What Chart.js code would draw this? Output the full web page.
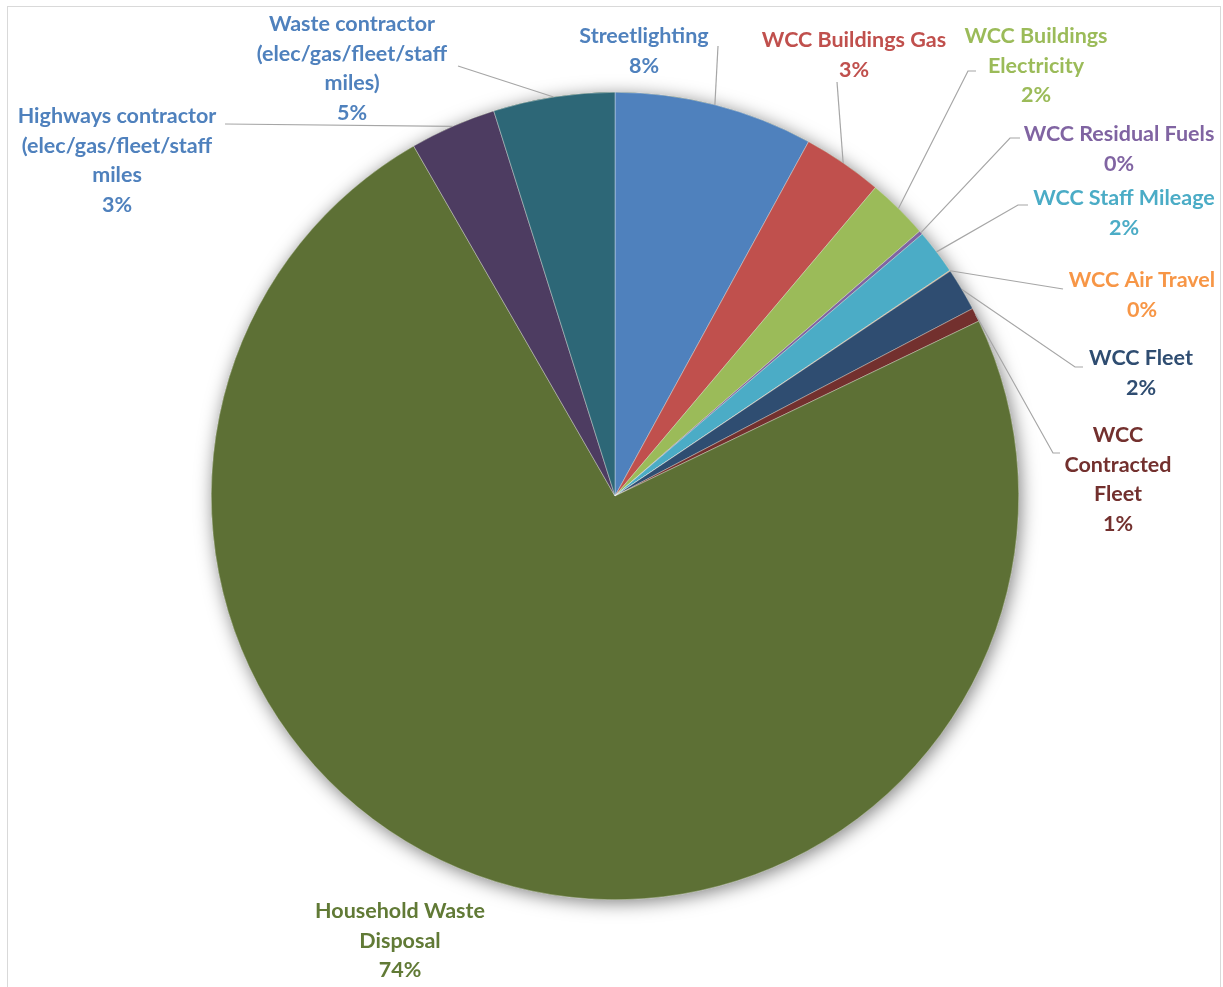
<!DOCTYPE html>
<html>
<head>
<meta charset="utf-8">
<script src="https://cdn.jsdelivr.net/npm/chart.js@4"></script>
<style>
  html, body { margin: 0; padding: 0; background: #fff; }
  #wrap { position: relative; width: 1223px; height: 987px; overflow: hidden; }
  #frame { position: absolute; left: 7px; top: 6px; width: 1214px; height: 1000px;
           border: 1px solid #d9d9d9; box-sizing: border-box; pointer-events: none; }
</style>
</head>
<body>
<div id="wrap">
  <canvas id="emissionsPie" width="1223" height="987"></canvas>
  <div id="frame"></div>
</div>
<script>
// categories (each an array of label lines) in drawing order, clockwise from 12 o'clock
const categories = [
  ['Streetlighting'],
  ['WCC Buildings Gas'],
  ['WCC Buildings', 'Electricity'],
  ['WCC Residual Fuels'],
  ['WCC Staff Mileage'],
  ['WCC Air Travel'],
  ['WCC Fleet'],
  ['WCC', 'Contracted', 'Fleet'],
  ['Household Waste', 'Disposal'],
  ['Highways contractor', '(elec/gas/fleet/staff', 'miles'],
  ['Waste contractor', '(elec/gas/fleet/staff', 'miles)']
];

// share of emissions (%)
const shares = [7.95, 3.2, 2.45, 0.15, 1.8, 0.03, 1.72, 0.55, 73.75, 3.45, 4.85];

const sliceColors = [
  '#4F81BD', '#C0504D', '#9BBB59', '#8064A2', '#4BACC6', '#F79646',
  '#2F4D71', '#73302E', '#5D7035', '#4D3C61', '#2D6777'
];
const labelColors = [
  '#4F81BD', '#C0504D', '#9BBB59', '#8064A2', '#4BACC6', '#F79646',
  '#2F4D71', '#73302E', '#617A36', '#4F81BD', '#4F81BD'
];

// where each data label sits (centre x, first line y) and its leader line path (label end first)
const labelLayout = [
  { x: 644,  y: 36,  leader: [[718, 46]] },
  { x: 854,  y: 40,  leader: [[837, 82]] },
  { x: 1036, y: 36,  leader: [[976, 71], [968, 71]] },
  { x: 1119, y: 134, leader: [[1020, 138], [1010, 138]] },
  { x: 1124, y: 198, leader: [[1028, 205], [1018, 205]] },
  { x: 1142, y: 280, leader: [[1063, 289]] },
  { x: 1141, y: 358, leader: [[1083, 367], [1075, 367]] },
  { x: 1118, y: 435, leader: [[1060, 453], [1053, 453]] },
  { x: 400,  y: 911, leader: null },
  { x: 117,  y: 116, leader: [[225, 124]] },
  { x: 352,  y: 24,  leader: [[458, 66]] }
];

const lineHeight = 29.7;
const labelFont = 'bold 21.5px Lato, "Open Sans", sans-serif';

const pieShadow = {
  id: 'pieShadow',
  beforeDatasetsDraw(chart) {
    const arc = chart.getDatasetMeta(0).data[0];
    if (!arc) return;
    const ctx = chart.ctx;
    ctx.save();
    ctx.shadowColor = 'rgba(0,0,0,0.5)';
    ctx.shadowBlur = 18;
    ctx.shadowOffsetX = 2;
    ctx.shadowOffsetY = 3;
    ctx.fillStyle = '#5D7035';
    ctx.beginPath();
    ctx.arc(arc.x, arc.y, arc.outerRadius, 0, Math.PI * 2);
    ctx.fill();
    ctx.restore();
  }
};

const sliceLabels = {
  id: 'sliceLabels',
  afterDatasetsDraw(chart) {
    const ctx = chart.ctx;
    const meta = chart.getDatasetMeta(0);
    const total = shares.reduce((a, b) => a + b, 0);
    ctx.save();
    meta.data.forEach((arc, i) => {
      const lay = labelLayout[i];
      const mid = (arc.startAngle + arc.endAngle) / 2;
      const ex = arc.x + Math.cos(mid) * arc.outerRadius;
      const ey = arc.y + Math.sin(mid) * arc.outerRadius;
      if (lay.leader) {
        ctx.strokeStyle = '#a6a6a6';
        ctx.lineWidth = 1.2;
        ctx.beginPath();
        ctx.moveTo(lay.leader[0][0], lay.leader[0][1]);
        lay.leader.slice(1).forEach(p => ctx.lineTo(p[0], p[1]));
        ctx.lineTo(ex, ey);
        ctx.stroke();
      }
      const pct = Math.round(shares[i] / total * 100) + '%';
      const lines = categories[i].concat([pct]);
      ctx.fillStyle = labelColors[i];
      ctx.font = labelFont;
      ctx.textAlign = 'center';
      ctx.textBaseline = 'middle';
      lines.forEach((t, k) => ctx.fillText(t, lay.x, lay.y + k * lineHeight));
    });
    ctx.restore();
  }
};

new Chart(document.getElementById('emissionsPie'), {
  type: 'pie',
  data: {
    labels: categories.map(c => c.join(' ')),
    datasets: [{
      data: shares,
      backgroundColor: sliceColors,
      borderColor: 'rgba(255,255,255,0.6)',
      borderWidth: 0.6,
      hoverOffset: 0
    }]
  },
  options: {
    responsive: false,
    animation: false,
    layout: { padding: { left: 211, right: 204, top: 92, bottom: 87 } },
    plugins: {
      legend: { display: false },
      tooltip: { enabled: false }
    }
  },
  plugins: [pieShadow, sliceLabels]
});
</script>
</body>
</html>
